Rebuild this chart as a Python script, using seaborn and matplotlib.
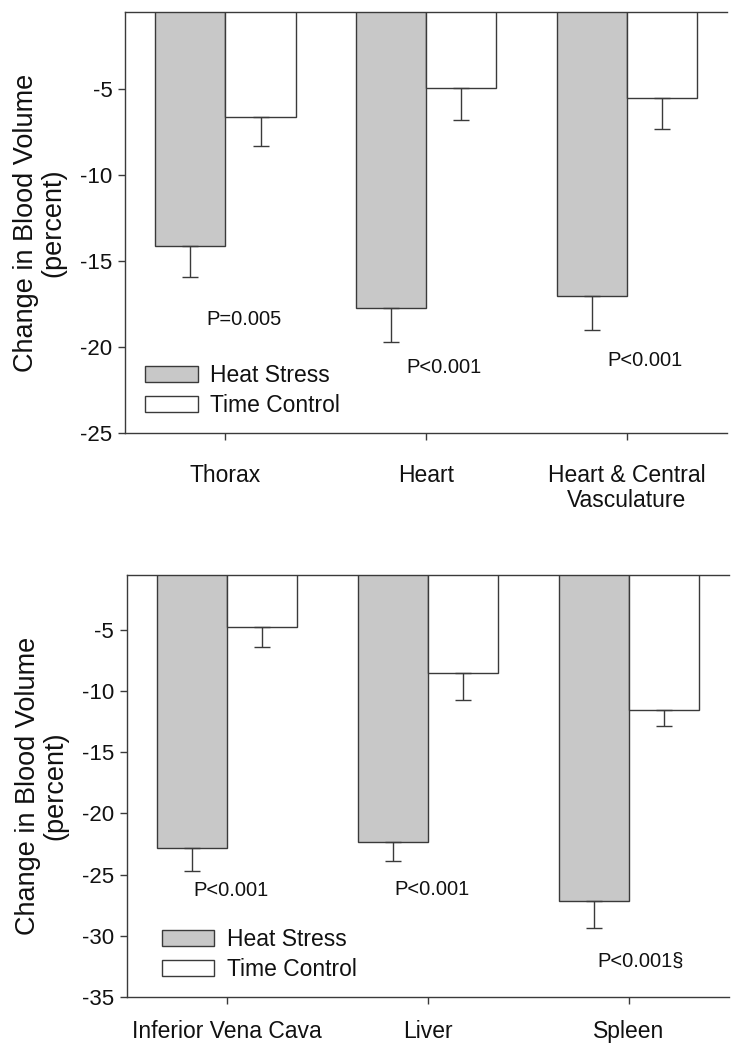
import matplotlib
matplotlib.use("Agg")
import matplotlib.pyplot as plt
import pandas as pd
import seaborn as sns

# top panel
top_regions = ["Thorax", "Heart", "Heart & Central\nVasculature"]
top_heat = [-14.1, -17.7, -17.0]
top_heat_se = [1.8, 2.0, 2.0]
top_ctrl = [-6.6, -4.9, -5.5]
top_ctrl_se = [1.7, 1.9, 1.8]
top_pvals = ["P=0.005", "P<0.001", "P<0.001"]

# bottom panel
bot_regions = ["Inferior Vena Cava", "Liver", "Spleen"]
bot_heat = [-22.8, -22.3, -27.2]
bot_heat_se = [1.9, 1.6, 2.2]
bot_ctrl = [-4.7, -8.5, -11.5]
bot_ctrl_se = [1.7, 2.2, 1.3]
bot_pvals = ["P<0.001", "P<0.001", "P<0.001\u00a7"]

groups = ["Heat Stress", "Time Control"]
colors = ["#c8c8c8", "#ffffff"]

sns.set_theme(style="white")
plt.rcParams["font.family"] = ["Liberation Sans", "DejaVu Sans"]

EDGE = "#3a3a3a"


def make_frame(regions, heat, heat_se, ctrl, ctrl_se):
    rows = []
    for r, m, s in zip(regions, heat, heat_se):
        rows.append({"region": r, "group": groups[0], "value": m, "se": s})
    for r, m, s in zip(regions, ctrl, ctrl_se):
        rows.append({"region": r, "group": groups[1], "value": m, "se": s})
    return pd.DataFrame(rows)


def draw_panel(ax, df, regions, ymin, yticks, pvals, ppos, legend_anchor, label_pad):
    sns.barplot(data=df, x="region", y="value", hue="group", order=regions,
                hue_order=groups, palette=colors, width=0.7, gap=0,
                errorbar=None, edgecolor=EDGE, linewidth=1.0, ax=ax,
                saturation=1)

    # lower error bars only, placed at each bar centre
    for container, grp in zip(ax.containers, groups):
        sub = df[df["group"] == grp].set_index("region").loc[regions]
        for patch, (_, row) in zip(container, sub.iterrows()):
            xc = patch.get_x() + patch.get_width() / 2
            ax.errorbar(xc, row["value"], yerr=[[row["se"]], [0]], fmt="none",
                        ecolor=EDGE, elinewidth=1.0, capsize=6, capthick=1.0)

    for txt, (px, py) in zip(pvals, ppos):
        ax.text(px, py, txt, ha="center", va="center", fontsize=14.5,
                color="#111111")

    ax.set_xlim(-0.5, 2.5)
    ax.set_ylim(ymin, -0.5)
    ax.set_yticks(yticks)
    ax.set_yticklabels([str(t) for t in yticks])
    ax.set_xlabel("")
    ax.set_ylabel("Change in Blood Volume\n(percent)", fontsize=19.5,
                  labelpad=10, linespacing=1.05, color="#111111")
    ax.tick_params(axis="y", labelsize=16, direction="out", length=5,
                   width=1, color=EDGE, left=True, pad=4, labelcolor="#111111")
    ax.tick_params(axis="x", labelsize=16.5, direction="out", length=5,
                   width=1, color=EDGE, bottom=True, pad=label_pad,
                   labelcolor="#111111")
    for lbl in ax.get_xticklabels():
        lbl.set_linespacing(1.15)

    ax.spines["right"].set_visible(False)
    for s in ["left", "bottom", "top"]:
        ax.spines[s].set_color(EDGE)
        ax.spines[s].set_linewidth(1.0)

    leg = ax.legend(loc="upper left", bbox_to_anchor=legend_anchor,
                    frameon=False, fontsize=16.5, handlelength=2.3,
                    handleheight=0.7, labelspacing=0.3, handletextpad=0.55,
                    borderpad=0, borderaxespad=0)
    for t in leg.get_texts():
        t.set_color("#111111")


fig = plt.figure(figsize=(7.36, 10.5), dpi=100)
ax1 = fig.add_axes([0.170, 0.5876, 0.818, 0.401])
ax2 = fig.add_axes([0.172, 0.0508, 0.819, 0.4013])

df_top = make_frame(top_regions, top_heat, top_heat_se, top_ctrl, top_ctrl_se)
df_bot = make_frame(bot_regions, bot_heat, bot_heat_se, bot_ctrl, bot_ctrl_se)

draw_panel(ax1, df_top, top_regions, -25, [-5, -10, -15, -20, -25],
           top_pvals, [(0.09, -18.4), (1.09, -21.2), (2.09, -20.76)],
           (0.033, 0.163), 17)
draw_panel(ax2, df_bot, bot_regions, -35, [-5, -10, -15, -20, -25, -30, -35],
           bot_pvals, [(0.02, -26.34), (1.02, -26.2), (2.06, -32.1)],
           (0.058, 0.162), 12)

fig.savefig("out.png", dpi=100)
